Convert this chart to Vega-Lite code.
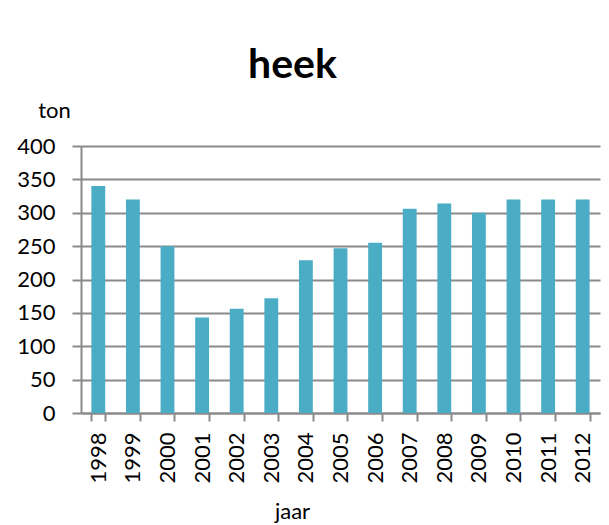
{
  "$schema": "https://vega.github.io/schema/vega-lite/v6.json",
  "width": 519,
  "height": 267,
  "autosize": {"type": "none"},
  "padding": {"left": 81, "top": 146, "right": 9, "bottom": 112},
  "background": "white",
  "config": {
    "view": {"stroke": null},
    "font": "Lato"
  },
  "title": {
    "text": "heek",
    "font": "Lato",
    "fontSize": 41,
    "fontWeight": "bold",
    "color": "#000000",
    "anchor": "middle",
    "frame": "group",
    "dx": -48,
    "offset": 12
  },
  "data": {
    "values": [
      {"jaar": "1998", "ton": 340},
      {"jaar": "1999", "ton": 320},
      {"jaar": "2000", "ton": 250},
      {"jaar": "2001", "ton": 143},
      {"jaar": "2002", "ton": 156},
      {"jaar": "2003", "ton": 172},
      {"jaar": "2004", "ton": 229},
      {"jaar": "2005", "ton": 247},
      {"jaar": "2006", "ton": 255},
      {"jaar": "2007", "ton": 306},
      {"jaar": "2008", "ton": 314},
      {"jaar": "2009", "ton": 300},
      {"jaar": "2010", "ton": 320},
      {"jaar": "2011", "ton": 320},
      {"jaar": "2012", "ton": 320}
    ]
  },
  "mark": {"type": "bar", "color": "#4BACC6"},
  "encoding": {
    "x": {
      "field": "jaar",
      "type": "nominal",
      "sort": null,
      "scale": {"paddingInner": 0.6, "paddingOuter": 0.3},
      "axis": {
        "title": "jaar",
        "titleFont": "Lato",
        "titleFontSize": 22,
        "titleFontWeight": "normal",
        "titleColor": "#000000",
        "titleX": 211,
        "titleY": 105,
        "titleBaseline": "alphabetic",
        "titleAlign": "center",
        "labelAngle": -90,
        "labelFont": "Lato",
        "labelFontSize": 22,
        "labelColor": "#000000",
        "labelPadding": 11,
        "tickBand": "extent",
        "tickSize": 8,
        "tickColor": "#8a8a8a",
        "tickWidth": 2,
        "domainColor": "#8a8a8a",
        "domainWidth": 2,
        "grid": false
      }
    },
    "y": {
      "field": "ton",
      "type": "quantitative",
      "scale": {"domain": [0, 400], "nice": false},
      "axis": {
        "values": [0, 50, 100, 150, 200, 250, 300, 350, 400],
        "title": "ton",
        "titleAngle": 0,
        "titleFont": "Lato",
        "titleFontSize": 22,
        "titleFontWeight": "normal",
        "titleColor": "#000000",
        "titleX": -27,
        "titleY": -29,
        "titleAlign": "center",
        "titleBaseline": "alphabetic",
        "labelFont": "Lato",
        "labelFontSize": 22,
        "labelColor": "#000000",
        "labelPadding": 17,
        "tickSize": 9,
        "tickColor": "#8a8a8a",
        "tickWidth": 2,
        "domainColor": "#8a8a8a",
        "domainWidth": 2,
        "grid": true,
        "gridColor": "#8a8a8a",
        "gridWidth": 2
      }
    }
  }
}
